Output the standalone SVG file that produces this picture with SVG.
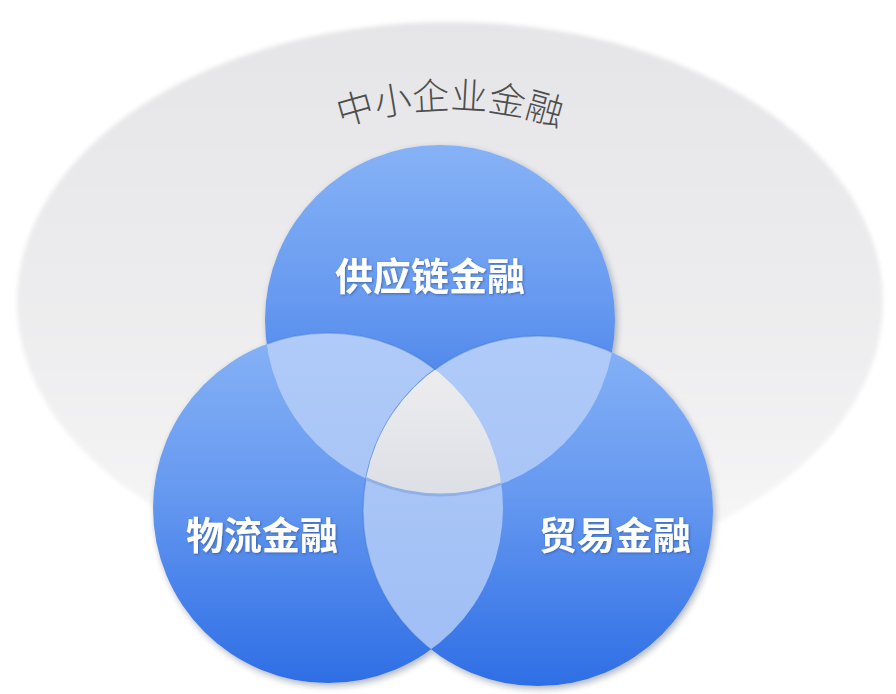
<svg xmlns="http://www.w3.org/2000/svg" width="896" height="694" viewBox="0 0 896 694">
  <defs>
    <style>
      .label { font-family: "Noto Sans CJK SC", "Noto Sans CJK JP", sans-serif; font-weight: 700; font-size: 38px; fill: #ffffff; text-anchor: middle; }
      .title { font-family: "Noto Sans CJK SC", "Noto Sans CJK JP", sans-serif; font-weight: 300; font-size: 37px; fill: #4e4e4e; }
      .lens { fill: url(#lensGrad); stroke: #3a6fc9; stroke-opacity: 0.35; stroke-width: 1.5; }
    </style>
    <linearGradient id="bgGrad" x1="0" y1="0" x2="0" y2="1">
      <stop offset="0" stop-color="#e5e5e7"/>
      <stop offset="0.55" stop-color="#ededef"/>
      <stop offset="1" stop-color="#f8f8f8"/>
    </linearGradient>
    <linearGradient id="blueGrad" x1="0" y1="0" x2="0" y2="1">
      <stop offset="0" stop-color="#86b2f6"/>
      <stop offset="0.45" stop-color="#6699f0"/>
      <stop offset="1" stop-color="#2e6ee5"/>
    </linearGradient>
    <linearGradient id="lensGrad" x1="0" y1="0" x2="0" y2="1">
      <stop offset="0" stop-color="#b0cbf8"/>
      <stop offset="1" stop-color="#9fbdf5"/>
    </linearGradient>
    <linearGradient id="coreGrad" x1="0" y1="0" x2="0" y2="1">
      <stop offset="0" stop-color="#f7f7f8"/>
      <stop offset="0.7" stop-color="#ebebee"/>
      <stop offset="1" stop-color="#dcdfe5"/>
    </linearGradient>
    <clipPath id="clipT"><circle cx="440" cy="320" r="175"/></clipPath>
    <clipPath id="clipL"><circle cx="328" cy="508" r="175"/></clipPath>
    <clipPath id="clipR"><circle cx="538" cy="511" r="175"/></clipPath>
    <filter id="shadow" x="-15%" y="-15%" width="135%" height="135%">
      <feDropShadow dx="2" dy="3" stdDeviation="3" flood-color="#1b2a4a" flood-opacity="0.35"/>
    </filter>
    <filter id="soft" x="-5%" y="-5%" width="110%" height="110%">
      <feGaussianBlur stdDeviation="2"/>
    </filter>
    <filter id="txtShadow" x="-10%" y="-20%" width="120%" height="140%">
      <feDropShadow dx="1" dy="1" stdDeviation="1" flood-color="#1f3766" flood-opacity="0.5"/>
    </filter>
    <path id="titleArc" d="M 300 144 A 340 340 0 0 1 600 144"/>
  </defs>

  <rect width="896" height="694" fill="#ffffff"/>

  <g id="sme-finance">
    <ellipse cx="450" cy="302" rx="433" ry="280" fill="url(#bgGrad)" filter="url(#soft)"/>
    <text class="title"><textPath href="#titleArc" startOffset="50%" text-anchor="middle">中小企业金融</textPath></text>
  </g>

  <g id="circles" filter="url(#shadow)">
    <g id="supply-chain-finance-circle"><circle cx="440" cy="320" r="175" fill="url(#blueGrad)"/></g>
    <g id="logistics-finance-circle"><circle cx="328" cy="508" r="175" fill="url(#blueGrad)"/></g>
    <g id="trade-finance-circle"><circle cx="538" cy="511" r="175" fill="url(#blueGrad)"/></g>
  </g>

  <g id="overlap-supply-logistics" clip-path="url(#clipT)">
    <circle class="lens" cx="328" cy="508" r="175"/>
  </g>
  <g id="overlap-supply-trade" clip-path="url(#clipT)">
    <circle class="lens" cx="538" cy="511" r="175"/>
  </g>
  <g id="overlap-logistics-trade" clip-path="url(#clipL)">
    <circle class="lens" cx="538" cy="511" r="175"/>
  </g>
  <g id="overlap-core" clip-path="url(#clipL)">
    <g clip-path="url(#clipR)">
      <circle cx="440" cy="320" r="175" fill="url(#coreGrad)" stroke="#8fb0e8" stroke-width="3"/>
    </g>
  </g>

  <g id="labels" filter="url(#txtShadow)">
    <g id="supply-chain-finance"><text class="label" x="430" y="290">供应链金融</text></g>
    <g id="logistics-finance"><text class="label" x="262" y="549">物流金融</text></g>
    <g id="trade-finance"><text class="label" x="615" y="549">贸易金融</text></g>
  </g>

  <g id="connectors"/>
</svg>
